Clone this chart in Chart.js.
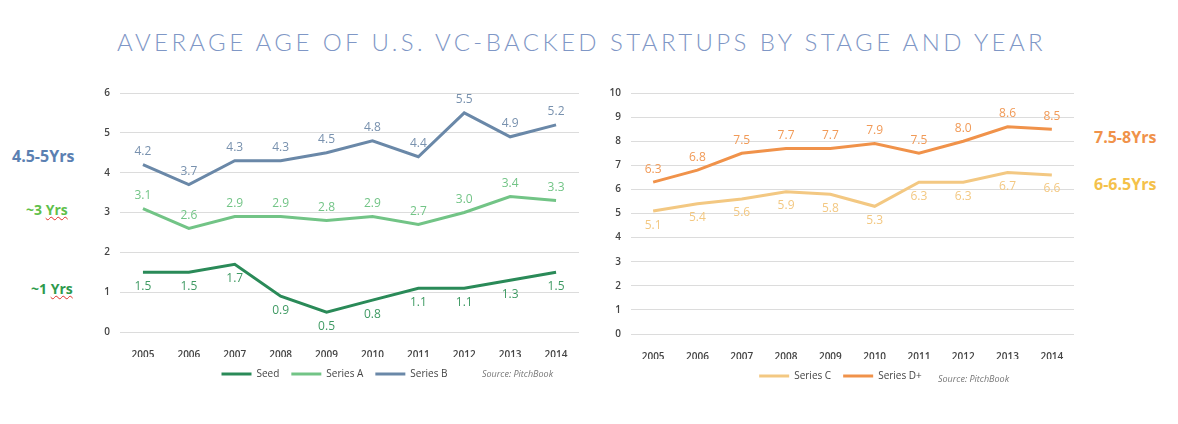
<!DOCTYPE html>
<html>
<head>
<meta charset="utf-8">
<script src="https://cdn.jsdelivr.net/npm/chart.js@4"></script>
<style>
  body { margin: 0; background: #fff; width: 1178px; height: 424px; overflow: hidden; position: relative; font-family: "Open Sans", sans-serif; }
  #title { position: absolute; left: 117px; top: 27px; font-family: "Lato", sans-serif; font-weight: 300; font-size: 24px; letter-spacing: 3.4px; color: #7f97c6; white-space: nowrap; }
  .box { position: absolute; }
  .note { position: absolute; font-weight: bold; font-size: 14px; white-space: nowrap; font-family: "Liberation Sans Narrow", "Open Sans", sans-serif; }
  .squig { text-decoration: underline wavy #e0302a; text-decoration-thickness: 1px; }
  .src { position: absolute; font-style: italic; font-size: 9px; color: #777; white-space: nowrap; }
</style>
</head>
<body>
<div id="title">AVERAGE AGE OF U.S. VC-BACKED STARTUPS BY STAGE AND YEAR</div>

<div class="note" style="left:12px; top:145px; color:#5b80b2; font-size:16px;">4.5-5Yrs</div>
<div class="note" style="left:26px; top:200px; color:#5fbf4a;">~3 <span class="squig">Yrs</span></div>
<div class="note" style="left:31px; top:279px; color:#2e9a4c;">~1 <span class="squig">Yrs</span></div>
<div class="note" style="left:1094px; top:126px; color:#f0924a; font-size:16px;">7.5-8Yrs</div>
<div class="note" style="left:1094px; top:173px; color:#f4c14a; font-size:16px;">6-6.5Yrs</div>

<div class="box" style="left:0; top:77px; width:600px; height:316px;"><canvas id="leftChart"></canvas></div>
<div class="box" style="left:590px; top:77px; width:588px; height:318px;"><canvas id="rightChart"></canvas></div>

<div class="src" style="left:482px; top:367px;">Source: PitchBook</div>
<div class="src" style="left:938px; top:372px;">Source: PitchBook</div>

<script>
const years = ["2005", "2006", "2007", "2008", "2009", "2010", "2011", "2012", "2013", "2014"];

const seed    = [1.5, 1.5, 1.7, 0.9, 0.5, 0.8, 1.1, 1.1, 1.3, 1.5];
const seriesA = [3.1, 2.6, 2.9, 2.9, 2.8, 2.9, 2.7, 3.0, 3.4, 3.3];
const seriesB = [4.2, 3.7, 4.3, 4.3, 4.5, 4.8, 4.4, 5.5, 4.9, 5.2];
const seriesC = [5.1, 5.4, 5.6, 5.9, 5.8, 5.3, 6.3, 6.3, 6.7, 6.6];
const seriesD = [6.3, 6.8, 7.5, 7.7, 7.7, 7.9, 7.5, 8.0, 8.6, 8.5];

// writes the value next to each point, above or below
const valueLabels = {
  id: "valueLabels",
  afterDatasetsDraw(chart) {
    const ctx = chart.ctx;
    ctx.save();
    ctx.font = "12px 'Open Sans', sans-serif";
    ctx.textAlign = "center";
    ctx.textBaseline = "middle";
    chart.data.datasets.forEach((ds, i) => {
      const meta = chart.getDatasetMeta(i);
      ctx.fillStyle = ds.labelColor || ds.borderColor;
      meta.data.forEach((pt, j) => {
        const dy = ds.labelPos === "below" ? 14 : -13;
        ctx.fillText(ds.data[j].toFixed(1), pt.x, pt.y + dy);
      });
    });
    ctx.restore();
  }
};

function makeChart(id, datasets, yMax, pad, yWidth) {
  return new Chart(document.getElementById(id), {
    type: "line",
    data: { labels: years, datasets: datasets },
    plugins: [valueLabels],
    options: {
      responsive: true,
      maintainAspectRatio: false,
      animation: false,
      layout: { padding: pad },
      elements: {
        point: { radius: 0 },
        line: { tension: 0 }
      },
      scales: {
        x: {
          offset: true,
          grid: { display: false },
          border: { display: false },
          ticks: { color: "#444", font: { family: "Open Sans", size: 10, weight: "600" }, padding: 9 },
          afterFit: s => { s.height = 25; }
        },
        y: {
          min: 0,
          max: yMax,
          ticks: { stepSize: 1, color: "#444", font: { family: "Open Sans", size: 10, weight: "600" }, padding: 10 },
          grid: { color: "#dcdcdc", drawTicks: false },
          border: { display: false },
          afterFit: s => { s.width = yWidth; }
        }
      },
      plugins: {
        legend: {
          position: "bottom",
          labels: {
            usePointStyle: true,
            pointStyle: "line",
            pointStyleWidth: 30,
            boxHeight: 4,
            color: "#444",
            font: { family: "Open Sans", size: 10 },
            padding: 12
          }
        },
        tooltip: { enabled: false }
      }
    }
  });
}

makeChart("leftChart", [
  { label: "Seed", data: seed, borderColor: "#2a8a58", backgroundColor: "#2a8a58", borderWidth: 3, labelPos: "below", labelColor: "#3f9a63" },
  { label: "Series A", data: seriesA, borderColor: "#72c486", backgroundColor: "#72c486", borderWidth: 3, labelPos: "above" },
  { label: "Series B", data: seriesB, borderColor: "#6a88a8", backgroundColor: "#6a88a8", borderWidth: 3, labelPos: "above", labelColor: "#7891ae" }
], 6, { top: 11, left: 90, right: 21, bottom: 4 }, 30);

makeChart("rightChart", [
  { label: "Series C", data: seriesC, borderColor: "#f3c882", backgroundColor: "#f3c882", borderWidth: 3, labelPos: "below" },
  { label: "Series D+", data: seriesD, borderColor: "#f0924a", backgroundColor: "#f0924a", borderWidth: 3, labelPos: "above", labelColor: "#f19a57" }
], 10, { top: 11, left: 17, right: 104, bottom: 4 }, 24);
</script>
</body>
</html>
